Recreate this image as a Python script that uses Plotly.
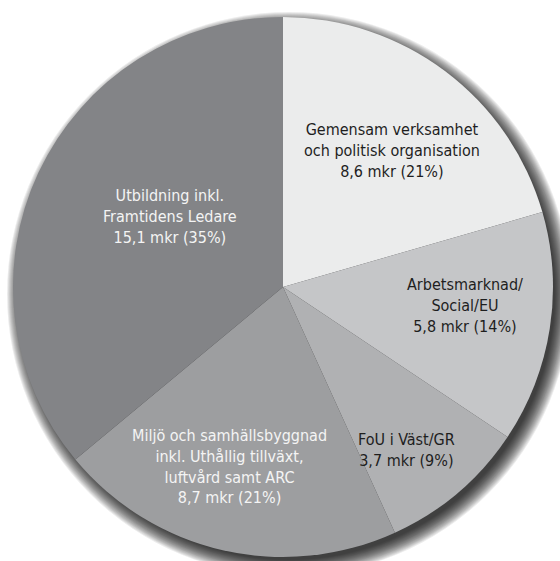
import math
import plotly.graph_objects as go

# ---- data ----
categories = [
    "Gemensam verksamhet<br>och politisk organisation",
    "Arbetsmarknad/<br>Social/EU",
    "FoU i Väst/GR",
    "Miljö och samhällsbyggnad<br>inkl. Uthållig tillväxt,<br>luftvård samt ARC",
    "Utbildning inkl.<br>Framtidens Ledare",
]
values = [8.6, 5.8, 3.7, 8.7, 15.1]
percent_labels = ["21%", "14%", "9%", "21%", "35%"]

# ---- style ----
colors = ["#ebecec", "#c5c6c8", "#b0b1b3", "#9d9ea0", "#838487"]
text_colors = ["#1e1e1e", "#1e1e1e", "#1e1e1e", "#f4f4f4", "#f4f4f4"]
label_radius = [0.648, 0.677, 0.758, 0.692, 0.494]   # fraction of pie radius
label_nudge = [1.6, -3.1, 3.1, 3.6, 7.0]              # degrees
FONT = "Liberation Sans Narrow, DejaVu Sans Condensed, Roboto Condensed, Arial Narrow, sans-serif"

# canvas slightly larger than the 560x561 window so the shadow can run off the edge
W, H = 600, 600
cx, cy, r = 283, 287, 270

texts = [f"{c}<br>{str(v).replace('.', ',')} mkr ({p})" for c, v, p in zip(categories, values, percent_labels)]

fig = go.Figure()

# soft drop shadow (decorative): stacked translucent discs behind the pie
sx, sy = cx + 6, cy + 7
for k in range(12, -5, -1):
    rr = r + k
    fig.add_trace(go.Pie(
        values=[1], textinfo="none", sort=False, hoverinfo="none", showlegend=False,
        marker=dict(colors=["rgba(0,0,0,0.075)"], line=dict(width=0)),
        domain=dict(x=[(sx - rr) / W, (sx + rr) / W], y=[1 - (sy + rr) / H, 1 - (sy - rr) / H]),
    ))

fig.add_trace(go.Pie(
    values=values,
    textinfo="none",
    sort=False,
    direction="clockwise",
    rotation=0,
    marker=dict(colors=colors, line=dict(width=0)),
    hoverinfo="none",
    showlegend=False,
    domain=dict(x=[(cx - r) / W, (cx + r) / W], y=[1 - (cy + r) / H, 1 - (cy - r) / H]),
))

# labels placed at the angular middle of each slice (computed from the values)
total = sum(values)
cum = 0.0
annotations = []
for i, v in enumerate(values):
    mid = (cum + v / 2) / total * 360 + label_nudge[i]
    cum += v
    px = cx + label_radius[i] * r * math.sin(math.radians(mid))
    py = cy - label_radius[i] * r * math.cos(math.radians(mid))
    annotations.append(dict(
        x=px / W, y=1 - py / H, xref="paper", yref="paper",
        text=texts[i], showarrow=False, align="center",
        xanchor="center", yanchor="middle",
        font=dict(family=FONT, size=16, color=text_colors[i]),
    ))

fig.update_layout(
    width=W, height=H,
    margin=dict(l=0, r=0, t=0, b=0),
    paper_bgcolor="white", plot_bgcolor="white",
    annotations=annotations,
)

fig.write_html("out.html", config={"displayModeBar": False},
               post_script="document.body.style.margin='0';document.body.style.overflow='hidden';")
